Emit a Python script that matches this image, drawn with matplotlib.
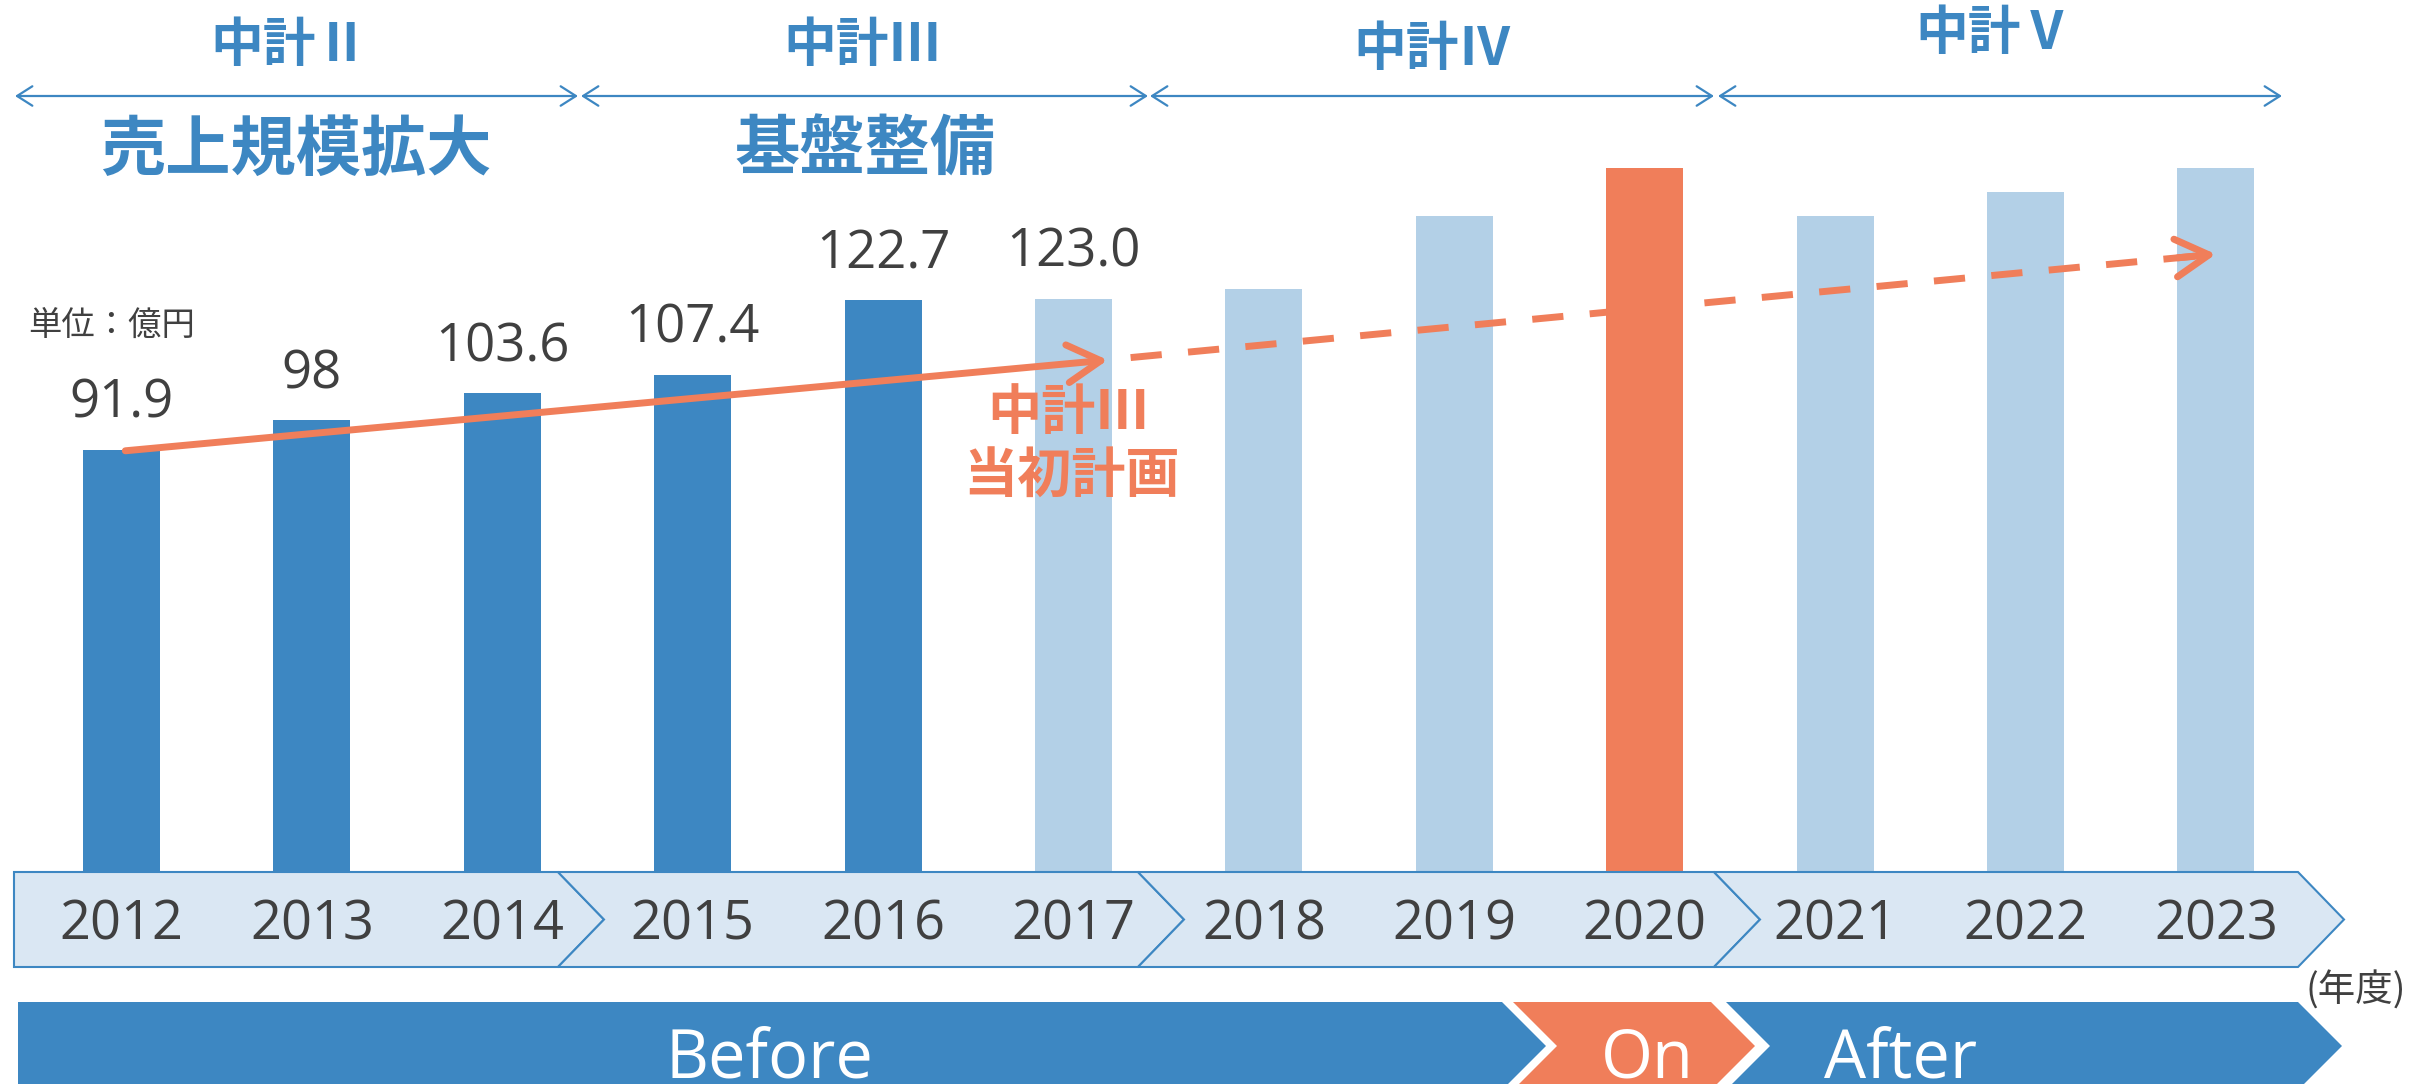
import numpy as np
import matplotlib
matplotlib.use('Agg')
from matplotlib import pyplot as plt
from matplotlib import transforms as mtransforms
from matplotlib.patches import Polygon

# data
years = [2012, 2013, 2014, 2015, 2016, 2017, 2018, 2019, 2020, 2021, 2022, 2023]
sales = [91.9, 98.0, 103.6, 107.4, 122.7, 123.0, 125.0, 140.0, 150.0, 140.0, 145.0, 150.0]
sales_labels = ['91.9', '98', '103.6', '107.4', '122.7', '123.0']
last_actual = 2016
on_year = 2020
# 中計III initial plan (x = year index)
plan_solid_x = [0.02, 5.18]
plan_solid_y = [91.7, 110.4]
plan_dash_x = [5.30, 11.0]
plan_dash_y = [110.9, 132.2]
terms = ['中計Ⅱ', '中計Ⅲ', '中計Ⅳ', '中計Ⅴ']
themes = ['売上規模拡大', '基盤整備']
phases = ['Before', 'On', 'After']

BLUE = '#3d87c2'
LIGHT = '#b3d0e7'
ORANGE = '#f07e5a'
BAND = '#dae7f3'
GREY = '#404040'
CJK = ['Noto Sans CJK JP', 'DejaVu Sans']
NUM = ['Open Sans', 'Noto Sans CJK JP', 'DejaVu Sans']

W, H = 2413, 1084
X0, STEP = 121.5, 190.4   # pixel centre of first bar, bar spacing
Y0, SCALE = 896, 4.855    # pixel of value 0, pixels per unit

fig = plt.figure(figsize=(W / 100, H / 100), dpi=100)
ax = fig.add_axes([0, 0, 1, 1])
ax.set_xlim(-X0 / STEP, (W - X0) / STEP)
ax.set_ylim(-(H - Y0) / SCALE, Y0 / SCALE)
ax.axis('off')

# pixel transform, origin top-left
pix = mtransforms.Affine2D().scale(1 / W, -1 / H).translate(0, 1) + fig.transFigure
xpix = mtransforms.blended_transform_factory(ax.transData, pix)

idx = np.arange(len(years))
colors = []
for y in years:
    if y <= last_actual:
        colors.append(BLUE)
    elif y == on_year:
        colors.append(ORANGE)
    else:
        colors.append(LIGHT)
ax.bar(idx, sales, width=77 / STEP, color=colors, zorder=1)

for i, lbl in enumerate(sales_labels):
    ax.annotate(lbl, (idx[i], sales[i]), xytext=(0, 23), textcoords='offset points',
                ha='center', va='baseline', fontsize=38, color=GREY, family=NUM)

# plan line
ax.annotate('', xy=(plan_solid_x[1], plan_solid_y[1]), xytext=(plan_solid_x[0], plan_solid_y[0]),
            arrowprops=dict(arrowstyle='->,head_length=0.6,head_width=0.34', lw=5, color=ORANGE,
                            shrinkA=0, shrinkB=0, mutation_scale=40), zorder=5)
ax.plot(plan_dash_x, plan_dash_y, color=ORANGE, lw=5, ls=(0, (4.5, 3.8)), zorder=5)
back_x = plan_dash_x[1] - 0.2
back_y = np.interp(back_x, plan_dash_x, plan_dash_y)
ax.annotate('', xy=(plan_dash_x[1], plan_dash_y[1]), xytext=(back_x, back_y),
            arrowprops=dict(arrowstyle='->,head_length=0.6,head_width=0.34', lw=5, color=ORANGE,
                            shrinkA=0, shrinkB=0, mutation_scale=40), zorder=5)
ax.text(1068, 413, '中計Ⅲ', transform=pix, ha='center', va='center', fontsize=39,
        fontweight='bold', color=ORANGE, family=CJK)
ax.text(1072, 477, '当初計画', transform=pix, ha='center', va='center', fontsize=39,
        fontweight='bold', color=ORANGE, family=CJK)

ax.text(112, 325, '単位：億円', transform=pix, ha='center', va='center', fontsize=24,
        color=GREY, family=CJK)


def chevron(xl, xr, yt, yb, notch, d):
    ym = (yt + yb) / 2
    pts = [(xl, yt), (xr, yt), (xr + d, ym), (xr, yb), (xl, yb)]
    if notch:
        pts.append((xl + d, ym))
    return pts


# year band
band_edges = [14, 558, 1138, 1714, 2298]
for k in range(len(band_edges) - 1):
    pts = chevron(band_edges[k], band_edges[k + 1], 872, 967, k > 0, 46)
    ax.add_patch(Polygon(pts, closed=True, facecolor=BAND, edgecolor=BLUE, lw=1.5,
                         transform=pix, zorder=3, clip_on=False))
for i, y in enumerate(years):
    ax.text(idx[i], 940, str(y), transform=xpix, ha='center', va='baseline', fontsize=39,
            color=GREY, family=NUM, zorder=4)
ax.text(2356, 991, '(年度)', transform=pix, ha='center', va='center', fontsize=27,
        color=GREY, family=CJK)

# phase band
phase_segs = [(18, 1502), (1513, 1711), (1726, 2298)]
phase_cols = [BLUE, ORANGE, BLUE]
phase_x = [769, 1647, 1901]
for k, (xl, xr) in enumerate(phase_segs):
    ax.add_patch(Polygon(chevron(xl, xr, 1002, 1090, k > 0, 44), closed=True,
                         facecolor=phase_cols[k], edgecolor='none', transform=pix,
                         zorder=3, clip_on=False))
    ax.text(phase_x[k], 1077, phases[k], transform=pix, ha='center', va='baseline',
            fontsize=48, color='white', family=NUM, zorder=4)

# term headers
term_spans = [(15, 578), (581, 1148), (1150, 1714), (1718, 2282)]
term_pos = [(290, 45), (862, 45), (1433, 50), (1994, 33)]
for k, t in enumerate(terms):
    xa, xb = term_spans[k]
    ax.annotate('', xy=(xb, 96), xytext=(xa, 96), xycoords=pix, textcoords=pix,
                arrowprops=dict(arrowstyle='<->,head_length=0.55,head_width=0.35', lw=1.6,
                                color=BLUE, shrinkA=0, shrinkB=0, mutation_scale=20))
    ax.text(term_pos[k][0], term_pos[k][1], t, transform=pix, ha='center', va='center',
            fontsize=38, fontweight='bold', color=BLUE, family=CJK)
theme_x = [296, 865]
for k, t in enumerate(themes):
    ax.text(theme_x[k], 150, t, transform=pix, ha='center', va='center', fontsize=47,
            fontweight='bold', color=BLUE, family=CJK)

fig.savefig('out.png', dpi=100)
